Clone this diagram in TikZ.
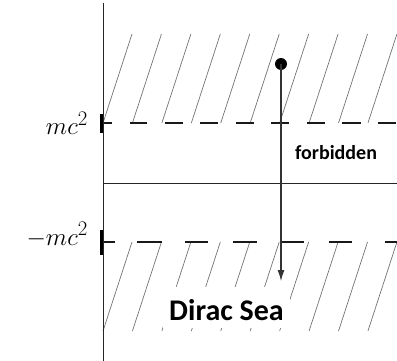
\documentclass[tikz,border=0pt]{standalone}
\usepackage{fontspec}
\newfontfamily\calib{Carlito}
\usetikzlibrary{arrows.meta}
\begin{document}
\begin{tikzpicture}[x=1pt,y=-1pt,
  hatch/.style={draw=black!55, line width=0.7pt},
  levelline/.style={draw=black!90, line width=1.5pt},
  axisline/.style={draw=black!85, line width=0.9pt},
  tickmark/.style={draw=black, line width=2.8pt},
  lbl/.style={inner sep=0pt, anchor=base east, font=\fontsize{30}{36}\selectfont},
  boldlbl/.style={inner sep=0pt, font=\calib\bfseries},
  transition/.style={draw=black!80, line width=1.1pt, -{Latex[length=11pt,width=7pt]}},
  electron/.style={circle, fill=black, minimum size=12pt, inner sep=0pt}]
\useasboundingbox (0,0) rectangle (397,361);
% hatching
\foreach \k in {0,...,9} {
  \pgfmathsetmacro\xt{132+29.44*\k}
  \draw[hatch] (\xt-29,123) -- (\xt,34);
  \draw[hatch] (\xt,242) -- (\xt-29,331);
}
% dashed level lines
\foreach \a/\b in {103/112,130/147,165/183,200/218,236/254,271/289,307/325,342/361,378/396}
  \draw[levelline] (\a,123) -- (\b,123);
\foreach \a/\b in {103/115,137/162,185/208,233/257,280/304,329/352,385/397}
  \draw[levelline] (\a,242) -- (\b,242);
% axes
\coordinate (axtop) at (103,3);
\coordinate (axbot) at (103,361);
\coordinate (hl) at (103,183);
\coordinate (hr) at (397,183);
\draw[axisline] (axtop) -- (axbot);
\draw[axisline] (hl) -- (hr);
% ticks
\coordinate (t1a) at (101.5,114); \coordinate (t1b) at (101.5,133);
\coordinate (t2a) at (101.5,230); \coordinate (t2b) at (101.5,255);
\draw[tickmark] (t1a) -- (t1b);
\draw[tickmark] (t2a) -- (t2b);
% labels
\node[lbl] (mcp) at (88,135) {$mc^2$};
\node[lbl] (mcn) at (88,245) {$-mc^2$};
% sea label with white background
\node[boldlbl, fill=white, inner xsep=6pt, text height=33pt, text depth=8pt, anchor=base,
      font=\calib\bfseries\fontsize{30}{34}\selectfont] (sea) at (226.5,320) {Dirac Sea};
\node[boldlbl, anchor=base west, font=\calib\bfseries\fontsize{20}{24}\selectfont] (forb) at (295,160) {forbidden};
% electron and transition
\node[electron] (e) at (281,64) {};
\coordinate (tip) at (281,281);
\draw[transition] (e.center) -- (tip);
\end{tikzpicture}
\end{document}
